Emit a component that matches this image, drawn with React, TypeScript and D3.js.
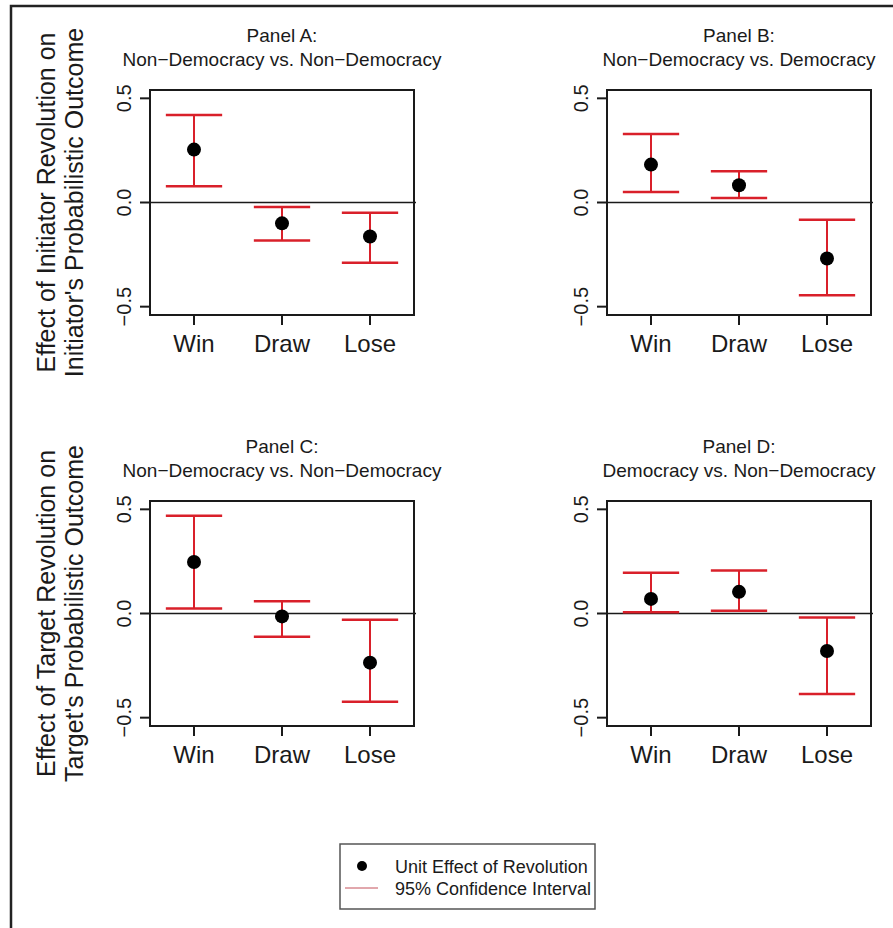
import React from 'react';
import * as d3 from 'd3';

const categories = ['Win', 'Draw', 'Lose'];
const yTicks = [-0.5, 0, 0.5];

const panelTitles = [
  ['Panel A:', 'Non\u2212Democracy vs. Non\u2212Democracy'],
  ['Panel B:', 'Non\u2212Democracy vs. Democracy'],
  ['Panel C:', 'Non\u2212Democracy vs. Non\u2212Democracy'],
  ['Panel D:', 'Democracy vs. Non\u2212Democracy'],
];

// point estimates and 95% CI bounds per panel (Win, Draw, Lose)
const estA = [0.254, -0.1, -0.163];
const lowA = [0.078, -0.182, -0.289];
const highA = [0.42, -0.022, -0.049];

const estB = [0.182, 0.083, -0.269];
const lowB = [0.051, 0.022, -0.445];
const highB = [0.329, 0.15, -0.083];

const estC = [0.247, -0.014, -0.236];
const lowC = [0.024, -0.112, -0.423];
const highC = [0.469, 0.059, -0.03];

const estD = [0.07, 0.104, -0.18];
const lowD = [0.006, 0.013, -0.386];
const highD = [0.196, 0.206, -0.019];

const yLabels = [
  ['Effect of Initiator Revolution on', "Initiator's Probabilistic Outcome"],
  ['Effect of Target Revolution on', "Target's Probabilistic Outcome"],
];

const legendItems = ['Unit Effect of Revolution', '95% Confidence Interval'];

const W = 893;
const H = 928;
const FONT = '"Liberation Sans", Arial, Helvetica, sans-serif';
const RED = '#d9202a';
const INK = '#1a1a1a';

const colLeft = [150, 607];
const rowTop = [90, 501];
const boxW = 264;
const boxH = 225;
const capHalf = 0.32;

const panels = [
  { est: estA, low: lowA, high: highA, col: 0, row: 0 },
  { est: estB, low: lowB, high: highB, col: 1, row: 0 },
  { est: estC, low: lowC, high: highC, col: 0, row: 1 },
  { est: estD, low: lowD, high: highD, col: 1, row: 1 },
];

const Panel = ({ p, title }) => {
  const left = colLeft[p.col];
  const top = rowTop[p.row];
  const x = d3.scaleLinear().domain([0.5, 3.5]).range([left, left + boxW]);
  const y = d3.scaleLinear().domain([-0.54, 0.54]).range([top + boxH, top]);
  const bottom = top + boxH;
  const cx = left + boxW / 2;

  return (
    <g>
      <text x={cx} y={top - 48} textAnchor="middle" fontSize={19} fill={INK}>{title[0]}</text>
      <text x={cx} y={top - 24} textAnchor="middle" fontSize={19} fill={INK}>{title[1]}</text>

      {/* y axis */}
      <line x1={left} x2={left} y1={y(0.5)} y2={y(-0.5)} stroke={INK} strokeWidth={2} />
      {yTicks.map(t => (
        <g key={t}>
          <line x1={left - 10} x2={left} y1={y(t)} y2={y(t)} stroke={INK} strokeWidth={2} />
          <text
            transform={`translate(${left - 19},${y(t)}) rotate(-90)`}
            textAnchor="middle"
            fontSize={20}
            fill={INK}
          >
            {t === 0 ? '0.0' : d3.format('.1f')(t).replace('-', '\u2212')}
          </text>
        </g>
      ))}

      {/* x axis */}
      <line x1={x(1)} x2={x(3)} y1={bottom} y2={bottom} stroke={INK} strokeWidth={2} />
      {categories.map((c, i) => (
        <g key={c}>
          <line x1={x(i + 1)} x2={x(i + 1)} y1={bottom} y2={bottom + 10} stroke={INK} strokeWidth={2} />
          <text x={x(i + 1)} y={bottom + 37} textAnchor="middle" fontSize={24} fill={INK}>{c}</text>
        </g>
      ))}

      <line x1={left} x2={left + boxW + 2} y1={y(0)} y2={y(0)} stroke={INK} strokeWidth={1.5} />

      {categories.map((c, i) => (
        <g key={c}>
          <line x1={x(i + 1)} x2={x(i + 1)} y1={y(p.low[i])} y2={y(p.high[i])} stroke={RED} strokeWidth={2} />
          <line x1={x(i + 1 - capHalf)} x2={x(i + 1 + capHalf)} y1={y(p.low[i])} y2={y(p.low[i])} stroke={RED} strokeWidth={2.5} />
          <line x1={x(i + 1 - capHalf)} x2={x(i + 1 + capHalf)} y1={y(p.high[i])} y2={y(p.high[i])} stroke={RED} strokeWidth={2.5} />
          <circle cx={x(i + 1)} cy={y(p.est[i])} r={7} fill="#000" />
        </g>
      ))}

      <rect x={left} y={top} width={boxW} height={boxH} fill="none" stroke={INK} strokeWidth={2} />
    </g>
  );
};

export default function App() {
  return (
    <div style={{ position: 'absolute', left: 0, top: 0 }}>
      <svg width={W} height={H} fontFamily={FONT} style={{ display: 'block', background: '#fff' }}>
        <path d={`M11,${H} L11,6 L${W},6`} fill="none" stroke="#222" strokeWidth={2.5} />

        {yLabels.map((lines, r) => {
          const cy = rowTop[r] + boxH / 2;
          return (
            <g key={r}>
              <text transform={`translate(55,${cy}) rotate(-90)`} textAnchor="middle" fontSize={25} fill={INK}>{lines[0]}</text>
              <text transform={`translate(83,${cy}) rotate(-90)`} textAnchor="middle" fontSize={25} fill={INK}>{lines[1]}</text>
            </g>
          );
        })}

        {panels.map((p, i) => (
          <Panel key={i} p={p} title={panelTitles[i]} />
        ))}

        {/* legend */}
        <g>
          <rect x={340} y={844} width={255} height={65} fill="#fff" stroke="#555" strokeWidth={1.5} />
          <circle cx={362} cy={866} r={5} fill="#000" />
          <line x1={345} x2={378} y1={888} y2={888} stroke="#c4505a" strokeWidth={1} />
          <text x={395} y={873} fontSize={18} fill={INK}>{legendItems[0]}</text>
          <text x={395} y={895} fontSize={18} fill={INK}>{legendItems[1]}</text>
        </g>
      </svg>
    </div>
  );
}
